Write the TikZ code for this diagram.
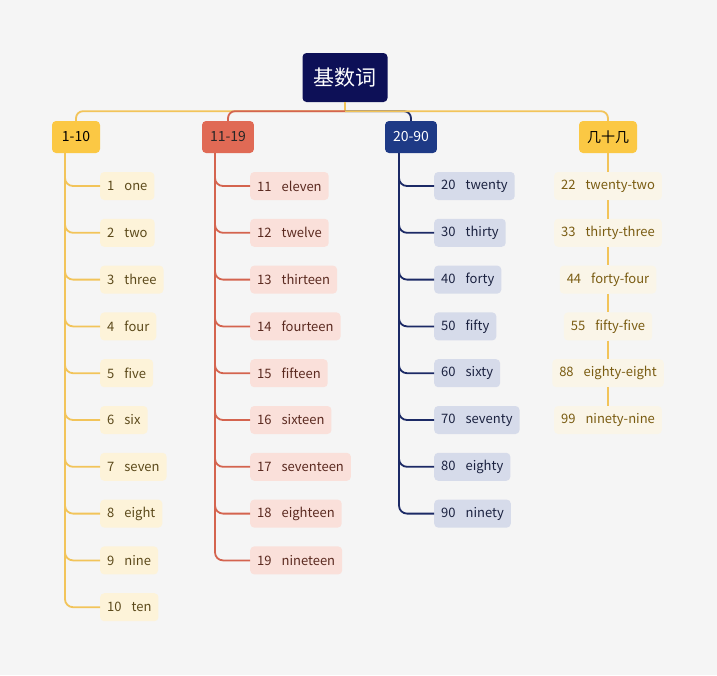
\documentclass[tikz,border=0pt]{standalone}
\usepackage{fontspec}
\setmainfont{Noto Sans CJK SC}
\usetikzlibrary{calc}
\definecolor{bg}{HTML}{F5F5F5}
\definecolor{rootc}{HTML}{0D1057}
\definecolor{yel}{HTML}{FBC844}
\definecolor{yelline}{HTML}{F2C45A}
\definecolor{redc}{HTML}{E06A55}
\definecolor{redline}{HTML}{D4644F}
\definecolor{navc}{HTML}{1E3A86}
\definecolor{navline}{HTML}{1C2A66}
\definecolor{yelbox}{HTML}{FDF3D9}
\definecolor{yeltext}{HTML}{5C4A1B}
\definecolor{redbox}{HTML}{FAE0DA}
\definecolor{redtext}{HTML}{5B2A20}
\definecolor{navbox}{HTML}{D6DBEA}
\definecolor{navtext}{HTML}{1B2240}
\definecolor{paleBox}{HTML}{FAF5E8}
\definecolor{paletext}{HTML}{7A5C12}
\begin{document}
\begin{tikzpicture}[x=1pt,y=-1pt,
  rootbox/.style={fill=rootc, text=white, rounded corners=4pt, minimum width=85pt, minimum height=49pt, font=\fontsize{21}{23}\selectfont, inner sep=0pt},
  topbox/.style={rounded corners=4pt, minimum height=32pt, minimum width=48pt, inner xsep=8pt, inner ysep=0pt, font=\fontsize{14}{16}\selectfont},
  leafbox/.style={rounded corners=4pt, minimum height=28pt, inner xsep=7pt, inner ysep=0pt, font=\fontsize{13}{15}\selectfont},
  conn/.style={line width=1.8pt, rounded corners=7pt},
  sconn/.style={line width=1.8pt, rounded corners=8pt}]
\fill[bg] (0,0) rectangle (717,675);
\useasboundingbox (0,0) rectangle (717,675);

\node[rootbox] (r) at (345,77.5) {基数词};
\node[topbox, fill=yel, text=black] (p1) at (76,137) {1-10};
\node[topbox, fill=redc, text=black!85] (p2) at (228,137) {11-19};
\node[topbox, fill=navc, text=white] (p3) at (411,137) {20-90};
\node[topbox, fill=yel, text=black] (p4) at (608,137) {几十几};

\coordinate (j) at ($(r.south)+(0,9)$);
\draw[line width=1.8pt, yelline] (r.south) -- (j);
\draw[conn, yelline] (j) -| (p1.north);
\draw[conn, redline] (j) -| (p2.north);
\draw[conn, navline] (j) -| (p3.north);
\draw[conn, yelline] (j) -| (p4.north);

\foreach \n/\w [count=\i] in {1/one,2/two,3/three,4/four,5/five,6/six,7/seven,8/eight,9/nine,10/ten}{
  \node[leafbox, fill=yelbox, text=yeltext, anchor=west] (a\i) at (100,{186+(\i-1)*46.8}) {\n\hspace{10pt}\w};
  \draw[sconn, yelline] ($(p1.south)+(-11,0)$) |- (a\i.west);
}
\foreach \n/\w [count=\i] in {11/eleven,12/twelve,13/thirteen,14/fourteen,15/fifteen,16/sixteen,17/seventeen,18/eighteen,19/nineteen}{
  \node[leafbox, fill=redbox, text=redtext, anchor=west] (b\i) at (250,{186+(\i-1)*46.8}) {\n\hspace{10pt}\w};
  \draw[sconn, redline] ($(p2.south)+(-13,0)$) |- (b\i.west);
}
\foreach \n/\w [count=\i] in {20/twenty,30/thirty,40/forty,50/fifty,60/sixty,70/seventy,80/eighty,90/ninety}{
  \node[leafbox, fill=navbox, text=navtext, anchor=west] (c\i) at (434,{186+(\i-1)*46.8}) {\n\hspace{10pt}\w};
  \draw[sconn, navline] ($(p3.south)+(-12,0)$) |- (c\i.west);
}
\foreach \n/\w [count=\i] in {22/twenty-two,33/thirty-three,44/forty-four,55/fifty-five,88/eighty-eight,99/ninety-nine}{
  \node[leafbox, fill=paleBox, text=paletext] (d\i) at (608,{186+(\i-1)*46.8}) {\n\hspace{10pt}\w};
}
\draw[line width=1.8pt, yelline] (p4.south) -- (d1.north);
\foreach \i [evaluate=\i as \j using int(\i+1)] in {1,...,5}{
  \draw[line width=1.8pt, yelline] (d\i.south) -- (d\j.north);
}
\end{tikzpicture}
\end{document}
